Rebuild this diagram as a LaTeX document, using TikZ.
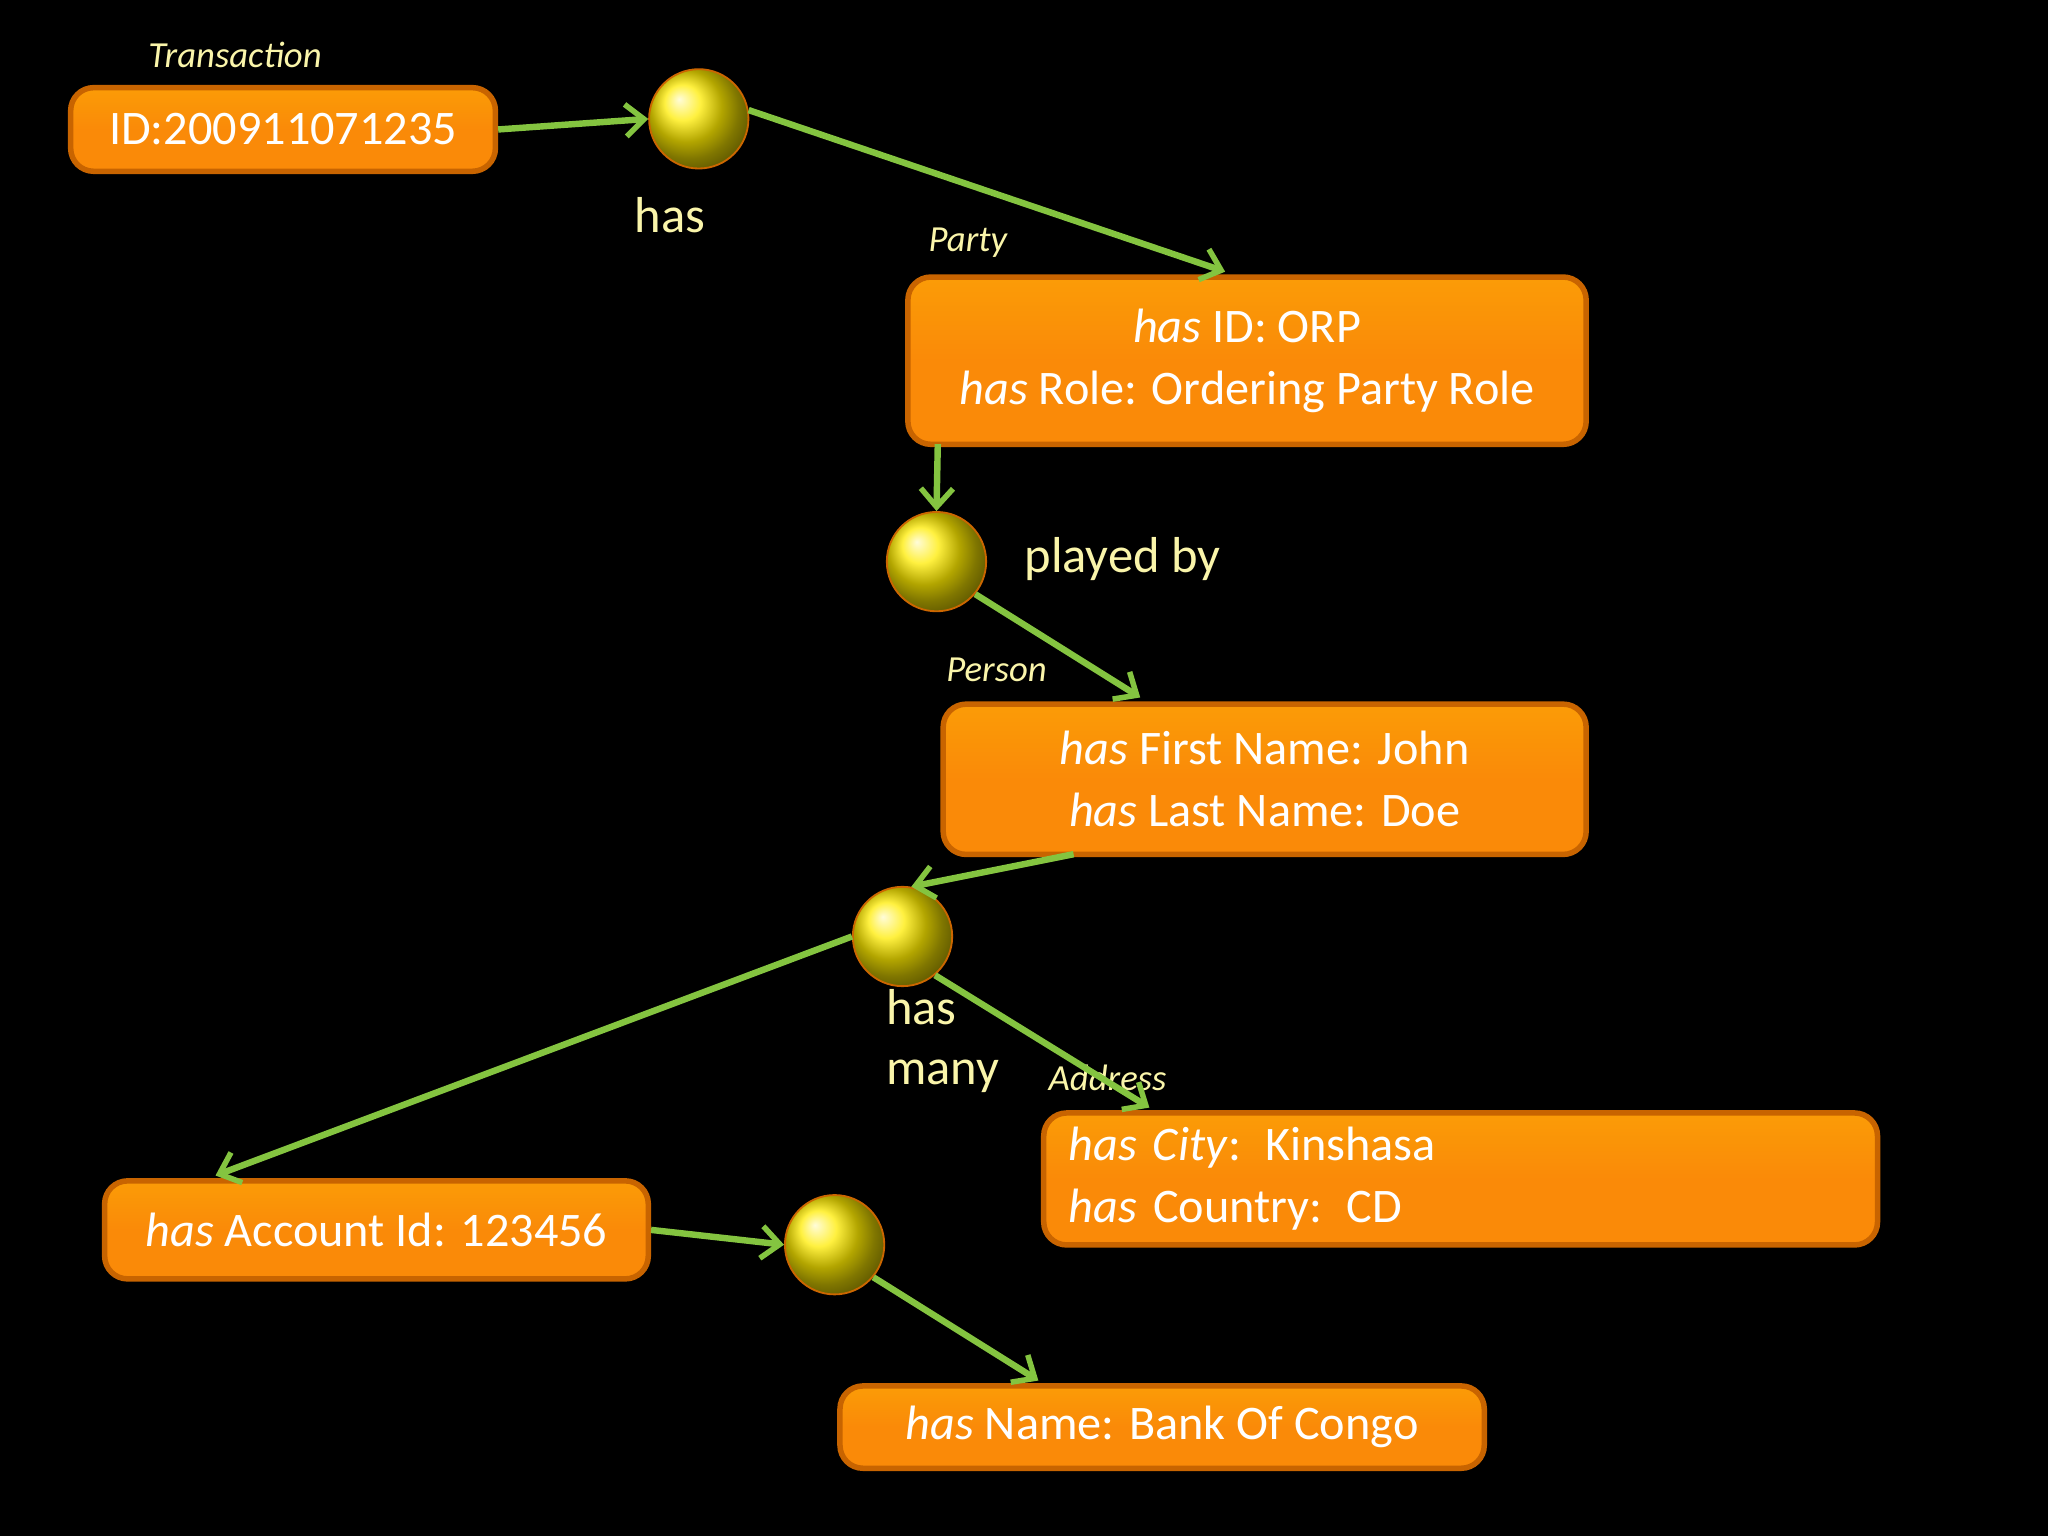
\documentclass[tikz,border=0pt]{standalone}
\usepackage{fontspec}
\setmainfont{Carlito}
\usetikzlibrary{arrows.meta,shadings}
\definecolor{lnk}{RGB}{132,196,64}
\definecolor{txt}{RGB}{250,245,170}
\definecolor{org}{RGB}{250,138,8}
\definecolor{orgd}{RGB}{200,100,0}
\tikzset{
 box/.style={draw=orgd,line width=1.2pt,rounded corners=5pt,top color=org!85!yellow,bottom color=org,middle color=org,anchor=north west,inner sep=0pt,font=\fontsize{10.5pt}{13.5pt}\selectfont,text=white},
 ball/.style={circle,minimum size=0.76cm,inner sep=0pt,shading=ball,ball color=yellow!85!orange,draw=orange!80!black,line width=0.4pt},
 tag/.style={text=txt,font=\itshape\fontsize{8pt}{9pt}\selectfont},
 lbl/.style={text=txt,font=\fontsize{11pt}{13pt}\selectfont},
 link/.style={draw=lnk,line width=1.4pt,-{Straight Barb[length=4pt,width=7pt,line width=1.2pt]}}
}
\begin{document}
\begin{tikzpicture}[x=0.01cm,y=-0.01cm]
\fill[black] (0,0) rectangle (1568,1176);
\useasboundingbox (0,0) rectangle (1568,1176);
% boxes
\node[box,minimum width=3.25cm,minimum height=0.64cm] (trans) at (52,65) {ID:200911071235};
\node[box,minimum width=5.19cm,minimum height=1.28cm,align=center] (party) at (693,210) {\textit{has} ID: ORP\\ \textit{has} Role: Ordering Party Role};
\node[box,minimum width=4.92cm,minimum height=1.15cm,align=center] (person) at (720,537) {\textit{has} First Name: John\\ \textit{has} Last Name: Doe};
\node[box,minimum width=6.38cm,minimum height=1.01cm,align=left,text width=6.0cm] (addr) at (797,850) {\textit{has City}: Kinshasa\\ \textit{has} Country: CD};
\node[box,minimum width=4.16cm,minimum height=0.75cm] (acct) at (78,902) {\textit{has} Account Id: 123456};
\node[box,minimum width=4.93cm,minimum height=0.63cm] (bank) at (641,1059) {\textit{has} Name: Bank Of Congo};
% tags
\node[tag] (t1) at (180,42) {Transaction};
\node[tag] (t2) at (741,186) {Party};
\node[tag] (t3) at (763,513) {Person};
\node[tag] (t4) at (848,825) {Address};
% balls
\node[ball] (c1) at (535,91) {};
\node[ball] (c2) at (717,430) {};
\node[ball] (c3) at (691,717) {};
\node[ball] (c4) at (639,953) {};
\node[lbl] (l1) at (513,165) {has};
\node[lbl,anchor=west] (l2) at (772,428) {played by};
\node[lbl,anchor=west,align=left] (l3) at (666,797) {has\\many};
% links
\coordinate (p1) at (938,208);
\coordinate (p2) at (873,534);
\coordinate (p3) at (822,654);
\coordinate (p4) at (165,900);
\coordinate (p5) at (880,848);
\coordinate (p6) at (795,1057);
\coordinate (p7) at (718,340);
\draw[link] (trans.east) -- (c1.west);
\draw[link] (c1.10) -- (p1);
\draw[link] (p7) -- (c2.north);
\draw[link] (c2.-40) -- (p2);
\draw[link] (p3) -- (c3.80);
\draw[link] (c3.west) -- (p4);
\draw[link] (c3.-50) -- (p5);
\draw[link] (acct.east) -- (c4.west);
\draw[link] (c4.-40) -- (p6);
\end{tikzpicture}
\end{document}
